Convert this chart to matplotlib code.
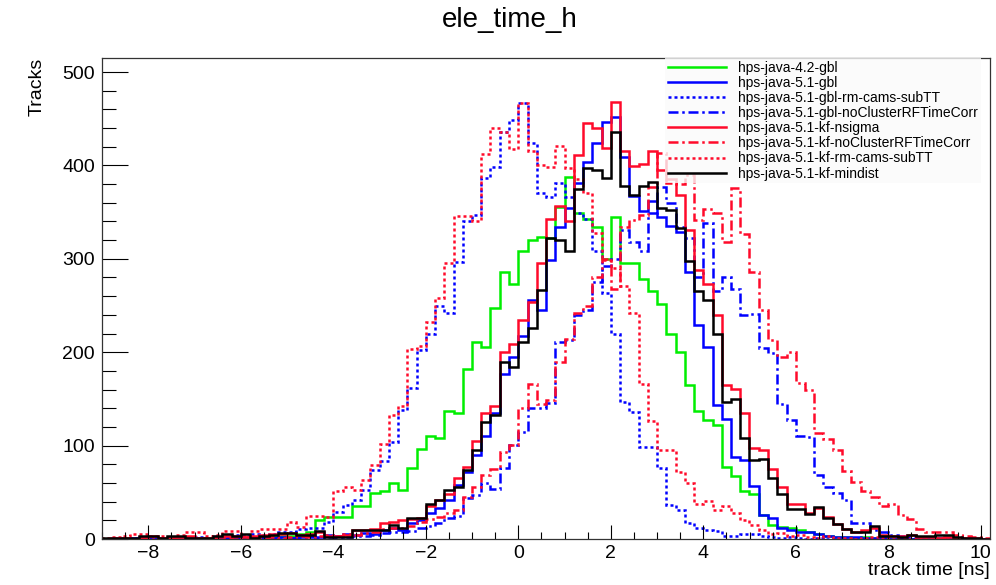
import numpy as np
import matplotlib
matplotlib.use('Agg')
import matplotlib.pyplot as plt
from matplotlib.ticker import MultipleLocator
from matplotlib.lines import Line2D

plt.rcParams['font.family'] = ['Liberation Sans', 'DejaVu Sans']

# 96 bins of 0.2 ns from -9 to 10.2
bin_lo, bin_hi, n_bins = -9.0, 10.2, 96

gbl_42 = [0, 0, 1, 0, 1, 0, 0, 1, 0, 1,
          0, 1, 1, 0, 2, 1, 1, 2, 2, 3,
          3, 5, 8, 20, 24, 24, 24, 35, 35, 49,
          51, 60, 52, 76, 96, 110, 108, 137, 135, 182,
          211, 206, 247, 286, 273, 308, 320, 323, 322, 355,
          388, 349, 343, 334, 300, 345, 295, 295, 278, 266,
          252, 220, 200, 165, 137, 127, 122, 77, 67, 51,
          48, 26, 15, 13, 12, 10, 7, 5, 3, 2,
          2, 1, 2, 1, 1, 0, 1, 0, 0, 1,
          0, 0, 0, 0, 0, 0]

gbl_51 = [0, 0, 0, 1, 0, 0, 1, 0, 0, 0,
          1, 0, 0, 1, 1, 0, 2, 1, 1, 2,
          1, 2, 3, 2, 4, 3, 5, 4, 6, 5,
          10, 12, 10, 17, 20, 28, 33, 42, 58, 72,
          90, 110, 135, 177, 195, 217, 256, 245, 299, 334,
          354, 381, 404, 424, 447, 452, 409, 367, 351, 362,
          345, 335, 329, 286, 229, 206, 143, 129, 88, 85,
          57, 26, 22, 12, 10, 8, 8, 5, 3, 2,
          2, 2, 1, 1, 1, 0, 1, 0, 0, 0,
          0, 0, 0, 0, 0, 0]

gbl_rmcams = [0, 1, 0, 1, 2, 1, 0, 1, 2, 1,
              2, 1, 3, 2, 4, 3, 5, 4, 5, 7,
              7, 11, 12, 12, 18, 29, 36, 42, 52, 74,
              83, 104, 138, 162, 202, 220, 249, 242, 297, 341,
              347, 387, 398, 436, 449, 467, 424, 370, 366, 381,
              366, 349, 343, 308, 263, 220, 147, 136, 99, 99,
              76, 36, 31, 17, 12, 10, 9, 3, 3, 5,
              5, 3, 2, 1, 2, 1, 0, 1, 0, 0,
              0, 1, 0, 0, 1, 0, 0, 0, 0, 0,
              0, 0, 0, 0, 0, 0]

gbl_nocorr = [0, 0, 0, 0, 0, 1, 0, 0, 0, 1,
              0, 0, 1, 0, 0, 1, 0, 1, 1, 0,
              1, 1, 2, 1, 2, 1, 2, 3, 3, 4,
              6, 8, 8, 9, 12, 14, 17, 22, 25, 44,
              47, 60, 54, 76, 101, 115, 140, 140, 146, 211,
              213, 240, 245, 275, 292, 300, 331, 318, 308, 349,
              377, 360, 334, 322, 281, 338, 265, 281, 268, 240,
              241, 204, 199, 145, 127, 110, 109, 69, 56, 49,
              42, 17, 17, 10, 8, 4, 3, 2, 1, 1,
              1, 0, 1, 0, 0, 0]

kf_nsigma = [0, 1, 1, 0, 2, 3, 1, 1, 2, 3,
             1, 1, 2, 3, 3, 2, 3, 4, 5, 5,
             6, 4, 5, 8, 3, 3, 4, 10, 10, 11,
             17, 18, 20, 21, 23, 35, 42, 48, 65, 77,
             105, 135, 142, 200, 209, 235, 254, 295, 343, 357,
             340, 411, 445, 440, 419, 468, 415, 399, 401, 415,
             395, 385, 368, 331, 288, 273, 240, 165, 161, 135,
             97, 95, 75, 56, 38, 37, 28, 33, 24, 16,
             11, 8, 10, 12, 4, 3, 3, 4, 2, 2,
             1, 2, 1, 1, 1, 0]

kf_nocorr = [0, 1, 0, 0, 1, 0, 1, 0, 2, 0,
             1, 0, 1, 1, 0, 2, 1, 1, 2, 1,
             2, 3, 2, 3, 4, 3, 5, 4, 6, 8,
             11, 12, 12, 14, 18, 21, 24, 28, 31, 45,
             56, 69, 75, 93, 101, 140, 166, 145, 149, 190,
             214, 242, 250, 280, 300, 268, 334, 342, 347, 377,
             413, 381, 380, 390, 342, 353, 349, 318, 376, 327,
             286, 245, 213, 195, 200, 167, 160, 114, 107, 95,
             73, 61, 51, 45, 35, 37, 26, 21, 11, 8,
             7, 8, 4, 3, 2, 1]

kf_rmcams = [1, 2, 3, 5, 5, 3, 3, 2, 4, 7,
             7, 3, 4, 9, 9, 3, 9, 11, 11, 11,
             18, 13, 25, 25, 24, 51, 56, 52, 63, 79,
             102, 133, 142, 203, 207, 232, 258, 296, 346, 346,
             340, 412, 440, 436, 418, 467, 415, 400, 398, 421,
             397, 385, 370, 328, 299, 290, 271, 242, 166, 126,
             95, 95, 72, 60, 38, 41, 31, 35, 28, 20,
             15, 10, 5, 6, 3, 4, 2, 1, 3, 1,
             1, 0, 1, 2, 1, 0, 1, 0, 1, 2,
             1, 0, 0, 1, 0, 0]

kf_mindist = [1, 1, 1, 1, 3, 3, 1, 3, 3, 1,
              1, 1, 3, 5, 3, 5, 1, 3, 4, 6,
              6, 4, 4, 9, 2, 2, 2, 10, 10, 10,
              10, 15, 12, 22, 22, 38, 42, 52, 56, 74,
              95, 125, 133, 189, 184, 211, 226, 267, 322, 320,
              308, 375, 397, 395, 386, 436, 378, 368, 378, 382,
              354, 352, 333, 298, 266, 256, 220, 147, 150, 108,
              85, 86, 65, 48, 32, 32, 27, 34, 22, 16,
              11, 8, 8, 14, 3, 3, 2, 4, 3, 3,
              4, 4, 2, 1, 1, 0]

labels = ['hps-java-4.2-gbl', 'hps-java-5.1-gbl', 'hps-java-5.1-gbl-rm-cams-subTT',
          'hps-java-5.1-gbl-noClusterRFTimeCorr', 'hps-java-5.1-kf-nsigma',
          'hps-java-5.1-kf-noClusterRFTimeCorr', 'hps-java-5.1-kf-rm-cams-subTT',
          'hps-java-5.1-kf-mindist']

green, blue, red = '#00ee00', '#0000ff', '#ff0a2a'
dotted = (0, (1.2, 1.2))
dashdot = (0, (4, 1.5, 1, 1.5))
series = [
    (gbl_42, green, '-'),
    (gbl_51, blue, '-'),
    (gbl_rmcams, blue, dotted),
    (gbl_nocorr, blue, dashdot),
    (kf_nsigma, red, '-'),
    (kf_nocorr, red, dashdot),
    (kf_rmcams, red, dotted),
    (kf_mindist, 'black', '-'),
]

edges = np.linspace(bin_lo, bin_hi, n_bins + 1)

fig = plt.figure(figsize=(9.96, 5.85), dpi=100)
ax = fig.add_axes([102 / 996, 46 / 585, 888 / 996, 481 / 585])

handles = []
for (vals, col, ls), lab in zip(series, labels):
    ax.stairs(vals, edges, color=col, linestyle=ls, linewidth=1.8)
    handles.append(Line2D([], [], color=col, linestyle=ls, linewidth=1.8))

ax.set_xlim(bin_lo, bin_hi)
ax.set_ylim(0, 515)

ax.xaxis.set_major_locator(MultipleLocator(2))
ax.xaxis.set_minor_locator(MultipleLocator(0.5))
ax.yaxis.set_major_locator(MultipleLocator(100))
ax.yaxis.set_minor_locator(MultipleLocator(20))
ax.tick_params(axis='x', which='major', direction='in', length=10, width=0.8, labelsize=14, pad=4)
ax.tick_params(axis='x', which='minor', direction='in', length=5, width=0.8)
ax.tick_params(axis='y', which='major', direction='in', length=19, width=0.8, labelsize=14, pad=5)
ax.tick_params(axis='y', which='minor', direction='in', length=10, width=0.8)
for sp in ax.spines.values():
    sp.set_linewidth(0.9)
    sp.set_color('#333333')

ax.set_xlabel('track time [ns]', fontsize=14, loc='right')
ax.xaxis.set_label_coords(1.0, -0.047)
ax.set_ylabel('Tracks', fontsize=14, loc='top')
ax.yaxis.set_label_coords(-0.064, 1.0)

fig.text(510 / 996, 1 - 20 / 585, 'ele_time_h', ha='center', va='center', fontsize=20)

leg = ax.legend(handles, labels, loc='upper left', bbox_to_anchor=(563 / 888, 1.0),
                fontsize=10, handlelength=4.2, handletextpad=0.85, labelspacing=0.08,
                borderpad=0.2, borderaxespad=0, frameon=True, fancybox=False)
leg.get_frame().set_facecolor('#fafafa')
leg.get_frame().set_edgecolor('none')

fig.savefig('out.png', dpi=100)
